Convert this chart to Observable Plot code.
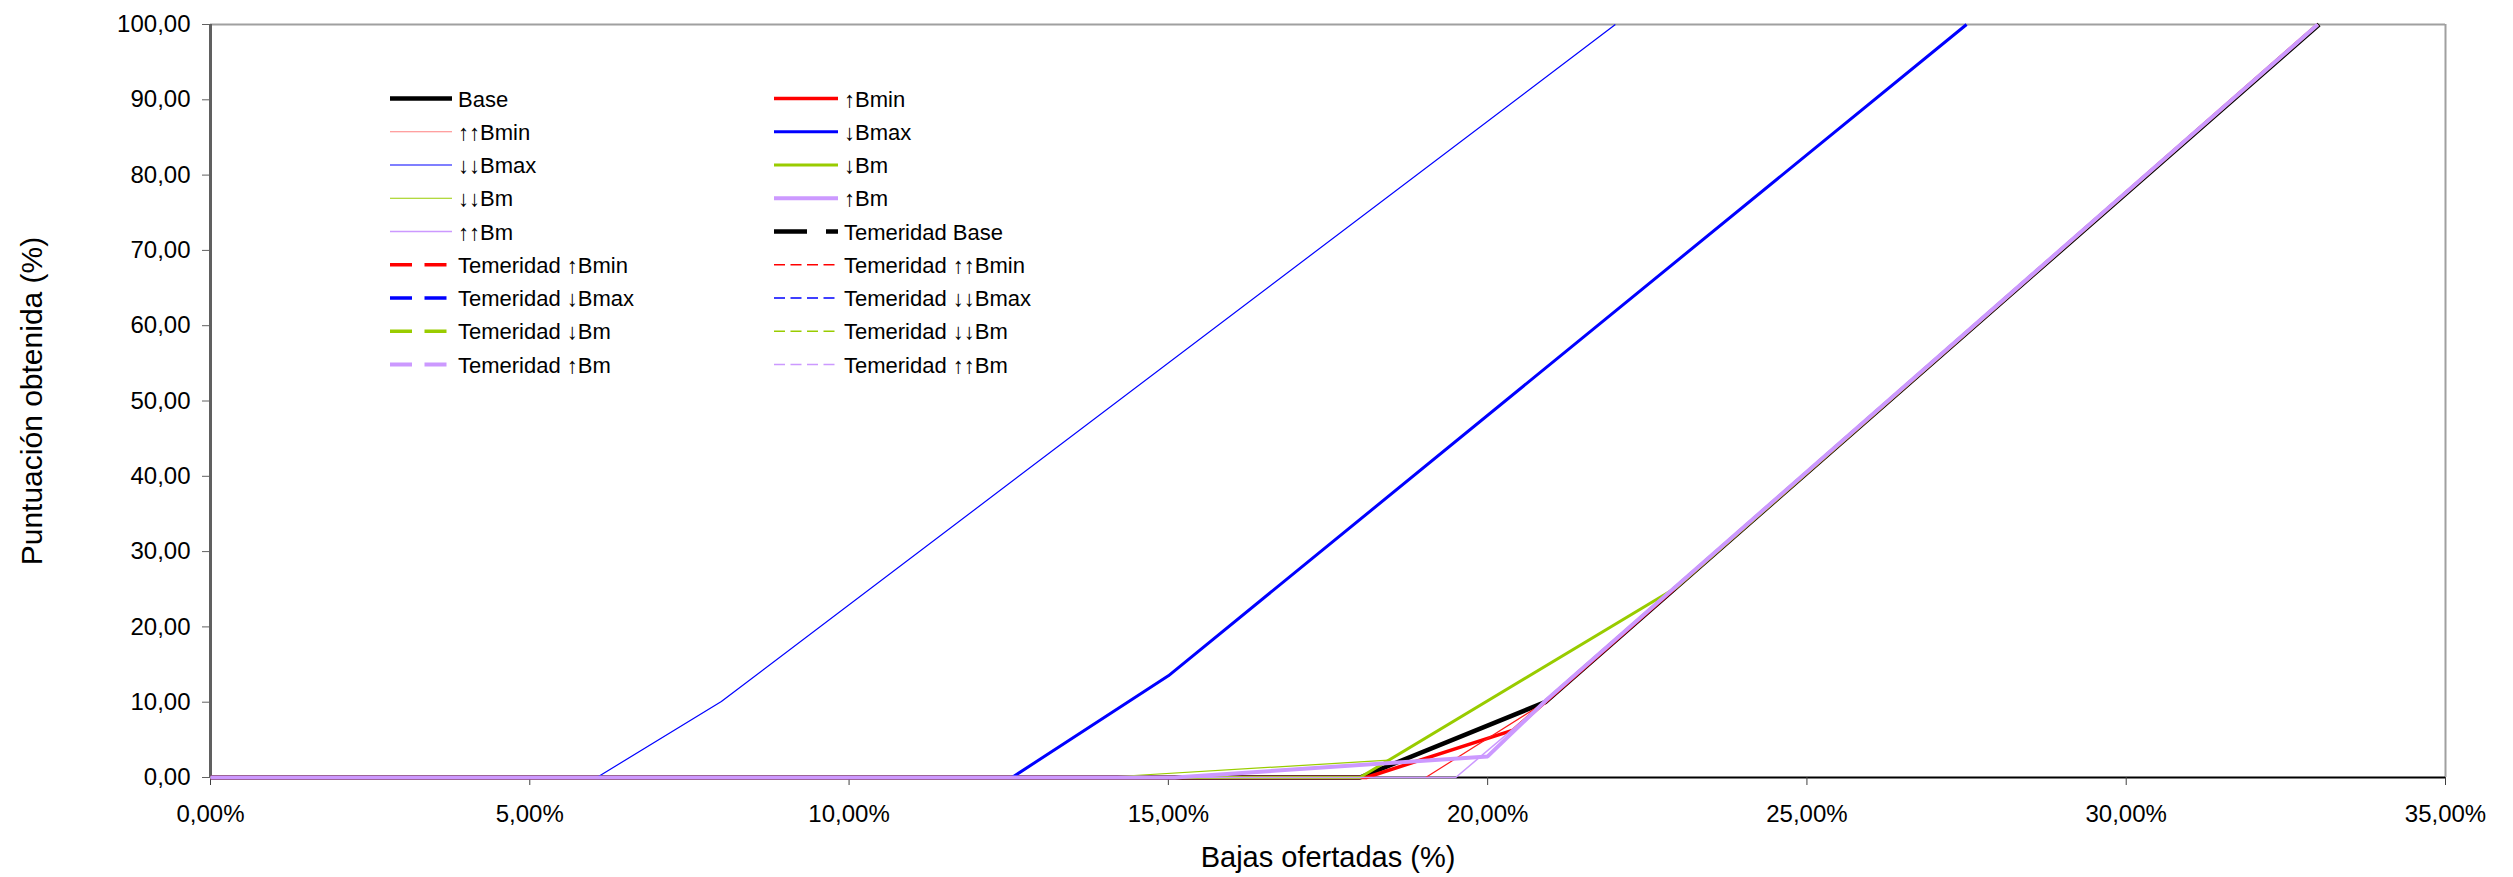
<!DOCTYPE html>
<html><head><meta charset="utf-8">
<script src="https://cdn.jsdelivr.net/npm/d3@7"></script>
<script src="https://cdn.jsdelivr.net/npm/@observablehq/plot@0.6"></script>
<style>
body{margin:0;background:#fff;}
#wrap{position:relative;width:2513px;height:877px;font-family:"Liberation Sans",Arial,sans-serif;}
#legend{position:absolute;left:0;top:0;pointer-events:none;}
</style></head><body><div id="wrap"></div>
<script>
// ---- data (x = Bajas ofertadas %, y = Puntuación obtenida %) ----
const xTicks = [0, 5, 10, 15, 20, 25, 30, 35];
const yTicks = [0, 10, 20, 30, 40, 50, 60, 70, 80, 90, 100];
const seriesNames = ["Base", "↑Bmin", "↑↑Bmin", "↓Bmax", "↓↓Bmax", "↓Bm", "↓↓Bm", "↑Bm", "↑↑Bm",
  "Temeridad Base", "Temeridad ↑Bmin", "Temeridad ↑↑Bmin", "Temeridad ↓Bmax", "Temeridad ↓↓Bmax",
  "Temeridad ↓Bm", "Temeridad ↓↓Bm", "Temeridad ↑Bm", "Temeridad ↑↑Bm"];
const base      = [[0, 0], [18.0, 0], [20.9, 10.0], [33.02, 100]];
const upBmin    = [[0, 0], [18.1, 0], [20.4, 6.3], [33.0, 100]];
const upUpBmin  = [[0, 0], [19.03, 0], [20.9, 10.0], [33.0, 100]];
const downBmax  = [[0, 0], [12.55, 0], [15.0, 13.5], [27.5, 100]];
const downDownBmax = [[0, 0], [6.05, 0], [8.0, 10.1], [22.0, 100]];
const downBm    = [[0, 0], [18.0, 0], [22.95, 25.2], [33.0, 100]];
const downDownBm = [[0, 0], [13.95, 0], [18.45, 2.3], [22.95, 25.2], [33.0, 100]];
const upBm      = [[0, 0], [15.1, 0], [20.0, 2.8], [20.92, 10.3], [33.0, 100]];
const upUpBm    = [[0, 0], [19.5, 0], [20.95, 10.4], [33.0, 100]];
const seriesValues = [base, upBmin, upUpBmin, downBmax, downDownBmax, downBm, downDownBm, upBm, upUpBm];

// ---- styles ----
const strokes = ["#000000", "#ff0000", "#ff1a1a", "#0000ff", "#0000ff", "#99cc00", "#99cc00", "#cc99ff", "#cc99ff",
  "#000000", "#ff0000", "#ff0000", "#0000ff", "#0000ff", "#99cc00", "#99cc00", "#cc99ff", "#cc99ff"];
const legendStrokes = strokes.map((c, i) => i === 2 ? "#ff8080" : c);
const widths = [4.5, 3.5, 1.2, 3, 1.2, 3, 1.2, 4, 1.5, 4.5, 3.5, 1.5, 3.5, 1.5, 3.5, 1.5, 4, 1.5];
const dashes = [null, null, null, null, null, null, null, null, null,
  "33,19", "22,12.5", "11,5.5", "22,12.5", "11,5.5", "22,12.5", "11,5.5", "22,12.5", "11,5.5"];

const fmtY = d => d.toFixed(2).replace(".", ",");
const fmtX = d => d.toFixed(2).replace(".", ",") + "%";

const rows = seriesValues.flatMap((pts, i) => pts.map(([x, y]) => ({serie: seriesNames[i], x, y})));

const lineMarks = seriesValues.map((pts, i) =>
  Plot.line(rows.filter(r => r.serie === seriesNames[i]), {
    x: "x", y: "y", stroke: strokes[i], strokeWidth: widths[i],
    strokeLinejoin: "miter", strokeLinecap: "butt"
  }));

const chart = Plot.plot({
  width: 2513, height: 877,
  marginLeft: 210, marginRight: 68, marginTop: 24, marginBottom: 100,
  style: {fontFamily: "'Liberation Sans', Arial, sans-serif", fontSize: "24px", background: "#fff", color: "#000", overflow: "visible"},
  x: {domain: [0, 35]},
  y: {domain: [0, 100]},
  marks: [
    Plot.ruleY([100], {stroke: "#a0a0a0", strokeWidth: 2}),
    Plot.ruleX([35], {stroke: "#a0a0a0", strokeWidth: 2}),
    Plot.ruleX([0], {stroke: "#606060", strokeWidth: 3}),
    Plot.ruleY([0], {stroke: "#000", strokeWidth: 2}),
    Plot.axisY(yTicks, {tickFormat: fmtY, tickSize: 8, tickPadding: 12, fontSize: 24, stroke: "#606060", fill: "#000", label: null}),
    Plot.axisX(xTicks, {tickFormat: fmtX, tickSize: 8, tickPadding: 19, fontSize: 24, stroke: "#404040", fill: "#000", label: null}),
    ...lineMarks,
    Plot.text(["Bajas ofertadas (%)"], {frameAnchor: "bottom", dy: 80, lineAnchor: "middle", fontSize: 29, fill: "#000"}),
    Plot.text(["Puntuación obtenida (%)"], {frameAnchor: "left", dx: -178, rotate: -90, lineAnchor: "middle", textAnchor: "middle", fontSize: 30, fill: "#000"})
  ]
});

const wrap = document.getElementById("wrap");
wrap.appendChild(chart);

// ---- legend ----
const leg = d3.select(wrap).append("svg").attr("id", "legend").attr("width", 2513).attr("height", 877);
const colSwatch = [[390, 452], [774, 838]];
const colText = [458, 844];
seriesNames.forEach((name, i) => {
  const col = i % 2, row = Math.floor(i / 2);
  const cy = 98.5 + 33.25 * row;
  const l = leg.append("line")
    .attr("x1", colSwatch[col][0]).attr("x2", colSwatch[col][1])
    .attr("y1", cy).attr("y2", cy)
    .attr("stroke", legendStrokes[i]).attr("stroke-width", widths[i]);
  if (dashes[i]) l.attr("stroke-dasharray", dashes[i]);
  leg.append("text").attr("x", colText[col]).attr("y", cy + 8)
    .attr("font-family", "'Liberation Sans', Arial, sans-serif").attr("font-size", 22)
    .attr("fill", "#000").text(name);
});
</script></body></html>
